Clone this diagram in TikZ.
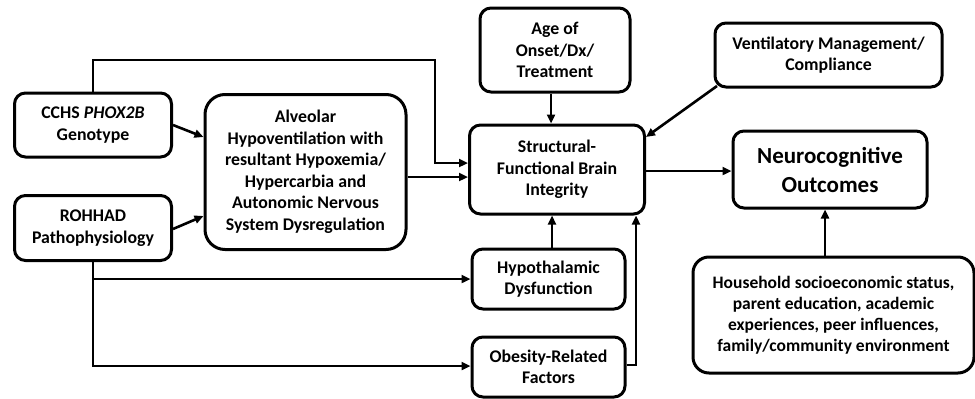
\documentclass[tikz,border=0pt]{standalone}
\usepackage{fontspec}
\setmainfont{Carlito}
\usetikzlibrary{arrows.meta}

\begin{document}
\begin{tikzpicture}[x=1pt,y=-1pt,font=\bfseries\fontsize{17.8}{21.5}\selectfont,
  box/.style={draw,line width=3pt,rounded corners=11pt,align=center,inner sep=0pt},
  link/.style={line width=2.6pt,-{Triangle[length=9pt,width=8pt]}}]
  \useasboundingbox (0,0) rectangle (975,399);
  % factors
  \node[box,minimum width=157pt,minimum height=64pt] (cchs) at (93,125) {CCHS \textit{PHOX2B}\\Genotype};
  \node[box,minimum width=157pt,minimum height=65pt] (rohhad) at (93,228) {ROHHAD\\Pathophysiology};
  \node[box,rounded corners=20pt,minimum width=201pt,minimum height=155pt] (alv) at (305.5,172) {Alveolar\\Hypoventilation with\\resultant Hypoxemia/\\Hypercarbia and\\Autonomic Nervous\\System Dysregulation};
  \node[box,minimum width=150pt,minimum height=84pt] (age) at (555,50) {Age of\\Onset/Dx/\\Treatment};
  \node[box,minimum width=227pt,minimum height=64pt] (vent) at (828.5,55) {Ventilatory Management/\\Compliance};
  \node[box,minimum width=175pt,minimum height=89pt] (brain) at (557,169.5) {Structural-\\Functional Brain\\Integrity};
  \node[box,minimum width=194pt,minimum height=77pt,font=\bfseries\fontsize{23}{29}\selectfont] (neuro) at (830,169.5) {Neurocognitive\\Outcomes};
  \node[box,minimum width=153pt,minimum height=60pt] (hypo) at (548.5,279) {Hypothalamic\\Dysfunction};
  \node[box,minimum width=153pt,minimum height=60pt] (obes) at (548.5,367) {Obesity-Related\\Factors};
  \node[box,rounded corners=16pt,minimum width=281pt,minimum height=116pt,font=\bfseries\fontsize{17.5}{21}\selectfont] (home) at (833.5,315) {Household socioeconomic status,\\parent education, academic\\experiences, peer influences,\\family/community environment};
  % connectors
  \draw[link] (cchs.north) -- (cchs.north |- 0,60) -| (435,163) -- (brain.west |- 0,163);
  \draw[link] (cchs.east |- 0,125) -- (alv.west |- 0,137);
  \draw[link] (rohhad.east |- 0,229) -- (alv.west |- 0,216);
  \draw[link] (alv.east |- 0,177) -- (brain.west |- 0,177);
  \draw[link] (rohhad.south) -- (93,366) -- (obes.west |- 0,366);
  \draw[link] (93,279) -- (hypo.west);
  \draw[link] (age.south -| 551,0) -- (brain.north -| 551,0);
  \draw[link] (hypo.north -| 552,0) -- (brain.south -| 552,0);
  \draw[link] (obes.east |- 0,365) -- (636,365) -- (brain.south -| 636,0);
  \draw[link] (717,86) -- (brain.east |- 0,137);
  \draw[link] (brain.east |- 0,171) -- (neuro.west |- 0,171);
  \draw[link] (home.north -| 825,0) -- (neuro.south -| 825,0);
\end{tikzpicture}
\end{document}
